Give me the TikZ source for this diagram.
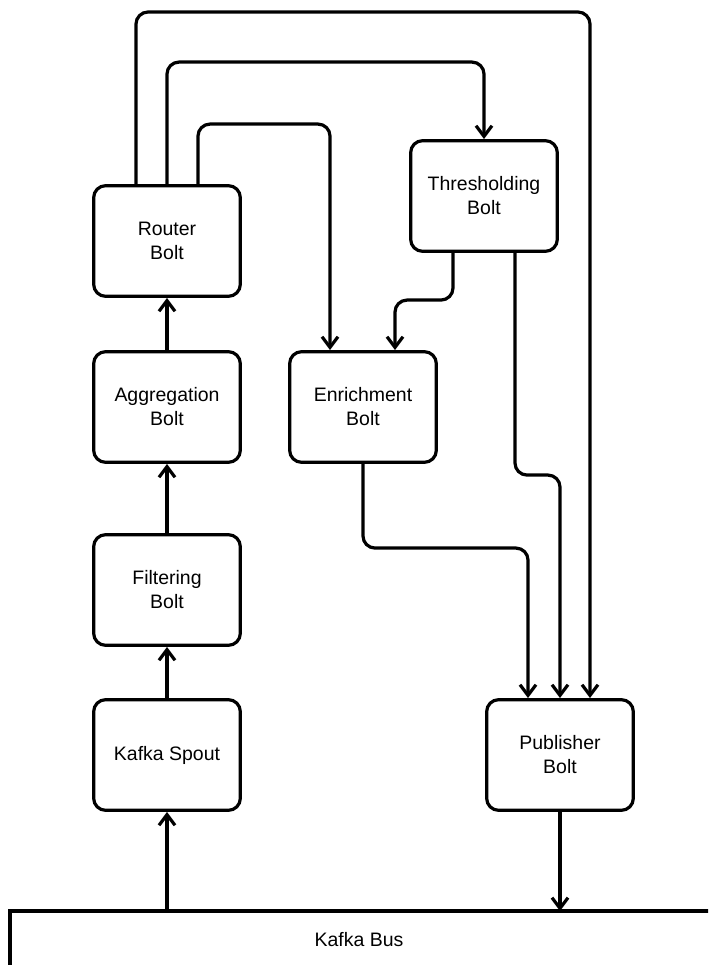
\documentclass[tikz,border=0pt]{standalone}
\usepackage{fontspec}
\setmainfont{Liberation Sans}
\usetikzlibrary{arrows.meta,calc}
\begin{document}
\begin{tikzpicture}
[x=0.75pt,y=-0.75pt,line width=2.4pt,%
  bolt/.style={shape=rectangle,draw,rounded corners=9pt,minimum width=110pt,
    minimum height=83pt,align=center,font=\fontsize{14.6pt}{18pt}\selectfont},%
  flow/.style={-{Straight Barb[length=8pt,width=12pt]},rounded corners=9pt}]
\useasboundingbox (0,0) rectangle (708,965);
\clip (0,0) rectangle (708,965);
\node[bolt] (router) at (167,241) {Router\\Bolt};
\node[bolt] (agg) at (167,407) {Aggregation\\Bolt};
\node[bolt] (filter) at (167,590) {Filtering\\Bolt};
\node[bolt] (spout) at (167,755) {Kafka Spout};
\node[bolt] (enrich) at (363,407) {Enrichment\\Bolt};
\node[bolt] (thresh) at (484,196) {Thresholding\\Bolt};
\node[bolt] (pub) at (560,755) {Publisher\\Bolt};
\draw (720,990) -- (10,990) -- (10,911) -- (720,911);
\node[font=\fontsize{14.6pt}{18pt}\selectfont] (bus) at (359,940) {Kafka Bus};
\coordinate (busline) at (0,911);
\draw[flow] (spout.south |- busline) -- (spout.south);
\draw[flow] (spout) -- (filter);
\draw[flow] (filter) -- (agg);
\draw[flow] (agg) -- (router);
\draw[flow] ($(router.north)+(-31,0)$) |- (590,12) -- ($(pub.north)+(30,0)$);
\draw[flow] (router.north) |- ($(thresh.north)+(0,-77)$) -- (thresh.north);
\draw[flow] ($(router.north)+(31,0)$) |- ($(enrich.north)+(-33,-226)$) -- ($(enrich.north)+(-33,0)$);
\draw[flow] ($(thresh.south)+(-31,0)$) |- ($(enrich.north)+(32,-50)$) -- ($(enrich.north)+(32,0)$);
\draw[flow] ($(thresh.south)+(31,0)$) |- ($(pub.north)+(0,-223)$) -- (pub.north);
\draw[flow] (enrich.south) |- ($(pub.north)+(-32,-150)$) -- ($(pub.north)+(-32,0)$);
\draw[flow] (pub.south) -- (pub.south |- busline);
\end{tikzpicture}
\end{document}
